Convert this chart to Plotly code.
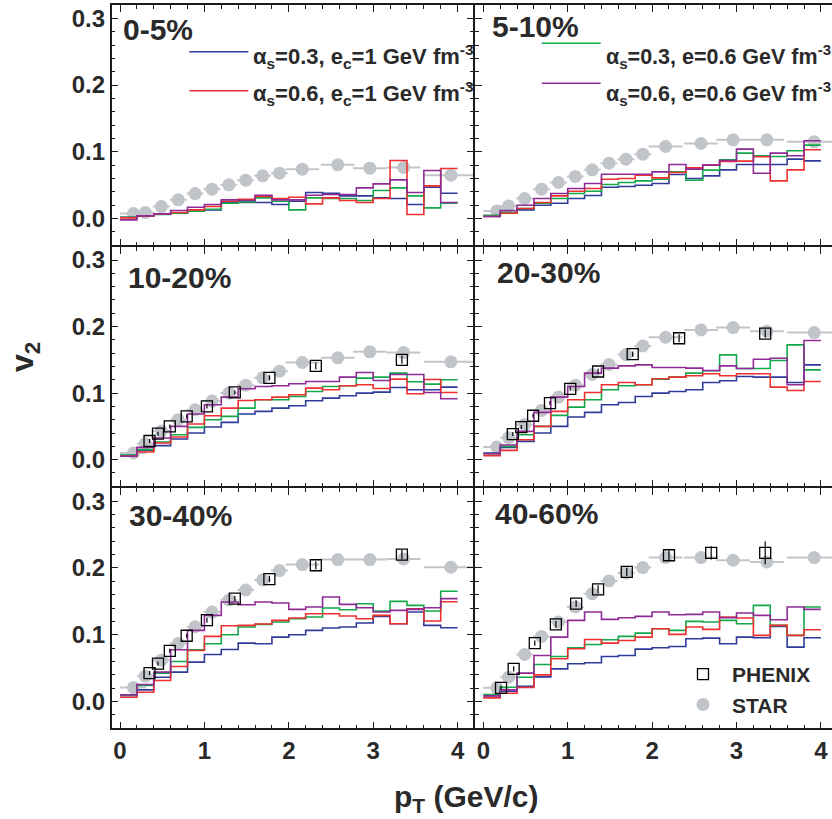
import plotly.graph_objects as go

# ---------------------------------------------------------------------------
# Data: elliptic flow v2 of charged hadrons versus pT in six centrality classes
# Model curves are histograms in 0.2 GeV/c bins from 0 to 4 GeV/c.
# ---------------------------------------------------------------------------
PT_EDGES = [0.0, 0.2, 0.4, 0.6, 0.8, 1.0, 1.2, 1.4, 1.6, 1.8, 2.0,
            2.2, 2.4, 2.6, 2.8, 3.0, 3.2, 3.4, 3.6, 3.8, 4.0]

CENTRALITY = ["0-5%", "5-10%", "10-20%", "20-30%", "30-40%", "40-60%"]

# alpha_s = 0.3, e_c = 1 GeV/fm^3  (blue)
as03_ec1_c0_5 = [0.002, 0.004, 0.007, 0.008, 0.011, 0.013, 0.024, 0.024, 0.024, 0.021,
                 0.026, 0.039, 0.038, 0.034, 0.034, 0.031, 0.030, 0.021, 0.047, 0.038]
as03_ec1_c5_10 = [0.004, 0.009, 0.013, 0.020, 0.023, 0.030, 0.0345, 0.047, 0.048, 0.050,
                  0.0525, 0.066, 0.060, 0.064, 0.073, 0.081, 0.081, 0.081, 0.089, 0.0865]
as03_ec1_c10_20 = [0.006, 0.014, 0.021, 0.031, 0.040, 0.049, 0.056, 0.0685, 0.0725, 0.0775,
                   0.081, 0.0885, 0.0925, 0.096, 0.100, 0.1015, 0.1085, 0.105, 0.105, 0.109]
as03_ec1_c20_30 = [0.010, 0.0185, 0.0275, 0.040, 0.050, 0.064, 0.071, 0.0825, 0.086, 0.095,
                   0.100, 0.1025, 0.105, 0.116, 0.1185, 0.125, 0.124, 0.124, 0.116, 0.1425]
as03_ec1_c30_40 = [0.009, 0.0175, 0.0365, 0.044, 0.059, 0.0705, 0.078, 0.0875, 0.0865, 0.0965,
                   0.100, 0.1065, 0.110, 0.1115, 0.1175, 0.1275, 0.1165, 0.134, 0.114, 0.1105]
as03_ec1_c40_60 = [0.0065, 0.0155, 0.023, 0.037, 0.049, 0.0565, 0.058, 0.0675, 0.069, 0.0785,
                   0.0805, 0.0825, 0.094, 0.095, 0.0865, 0.0965, 0.0955, 0.1125, 0.0815, 0.0955]

# alpha_s = 0.6, e_c = 1 GeV/fm^3  (red)
as06_ec1_c0_5 = [0.001, 0.004, 0.007, 0.009, 0.013, 0.018, 0.026, 0.029, 0.033, 0.030,
                 0.032, 0.022, 0.031, 0.027, 0.024, 0.030, 0.087, 0.006, 0.049, 0.075]
as06_ec1_c5_10 = [0.003, 0.008, 0.015, 0.024, 0.034, 0.041, 0.045, 0.059, 0.060, 0.065,
                  0.061, 0.069, 0.076, 0.080, 0.0855, 0.086, 0.0925, 0.0565, 0.073, 0.103]
as06_ec1_c10_20 = [0.005, 0.0115, 0.025, 0.034, 0.0535, 0.066, 0.0775, 0.089, 0.090, 0.094,
                   0.0975, 0.1075, 0.105, 0.111, 0.1125, 0.107, 0.121, 0.099, 0.1205, 0.101]
as06_ec1_c20_30 = [0.006, 0.014, 0.030, 0.050, 0.0725, 0.090, 0.101, 0.1125, 0.116, 0.1125,
                   0.1215, 0.124, 0.126, 0.129, 0.126, 0.129, 0.129, 0.109, 0.104, 0.1175]
as06_ec1_c30_40 = [0.0065, 0.014, 0.0315, 0.0525, 0.0765, 0.0975, 0.1135, 0.114, 0.116, 0.1215,
                   0.125, 0.1315, 0.1315, 0.128, 0.124, 0.129, 0.1165, 0.139, 0.1205, 0.1495]
as06_ec1_c40_60 = [0.0055, 0.0125, 0.021, 0.040, 0.064, 0.079, 0.093, 0.0875, 0.0915, 0.0965,
                   0.109, 0.1005, 0.1115, 0.108, 0.1265, 0.125, 0.099, 0.114, 0.099, 0.1075]

# alpha_s = 0.3, e = 0.6 GeV/fm^3  (green)
as03_e06_c0_5 = [0.002, 0.004, 0.006, 0.008, 0.011, 0.014, 0.023, 0.025, 0.031, 0.026,
                 0.013, 0.031, 0.030, 0.030, 0.027, 0.042, 0.046, 0.034, 0.016, 0.023]
as03_e06_c5_10 = [0.005, 0.009, 0.015, 0.023, 0.030, 0.0375, 0.041, 0.051, 0.054, 0.0565,
                  0.059, 0.070, 0.0575, 0.0725, 0.088, 0.098, 0.094, 0.093, 0.1015, 0.110]
as03_e06_c10_20 = [0.007, 0.015, 0.0265, 0.0375, 0.0485, 0.060, 0.065, 0.0775, 0.090, 0.090,
                   0.095, 0.1025, 0.110, 0.111, 0.1225, 0.124, 0.130, 0.117, 0.1135, 0.120]
as03_e06_c20_30 = [0.009, 0.020, 0.0375, 0.050, 0.0665, 0.079, 0.090, 0.105, 0.111, 0.1125,
                   0.121, 0.124, 0.130, 0.1335, 0.1575, 0.137, 0.137, 0.149, 0.1725, 0.135]
as03_e06_c30_40 = [0.009, 0.024, 0.0425, 0.060, 0.0775, 0.0865, 0.100, 0.1115, 0.1155, 0.119,
                   0.124, 0.1265, 0.140, 0.1375, 0.1465, 0.1355, 0.150, 0.144, 0.1355, 0.165]
as03_e06_c40_60 = [0.0105, 0.0215, 0.0365, 0.0555, 0.0675, 0.0805, 0.0855, 0.0925, 0.0975, 0.1025,
                   0.109, 0.1065, 0.120, 0.119, 0.1215, 0.1165, 0.144, 0.114, 0.099, 0.1415]

# alpha_s = 0.6, e = 0.6 GeV/fm^3  (purple)
as06_e06_c0_5 = [-0.002, 0.004, 0.007, 0.012, 0.017, 0.021, 0.028, 0.027, 0.035, 0.028,
                 0.028, 0.035, 0.036, 0.036, 0.046, 0.052, 0.058, 0.039, 0.072, 0.024]
as06_e06_c5_10 = [0.003, 0.012, 0.020, 0.030, 0.0375, 0.045, 0.0525, 0.0665, 0.0665, 0.0665,
                  0.070, 0.081, 0.074, 0.080, 0.087, 0.104, 0.068, 0.098, 0.094, 0.1165]
as06_e06_c10_20 = [0.005, 0.0185, 0.0325, 0.050, 0.0685, 0.0825, 0.094, 0.1065, 0.110, 0.111,
                   0.114, 0.1175, 0.1175, 0.124, 0.131, 0.119, 0.128, 0.128, 0.101, 0.0915]
as06_e06_c20_30 = [0.009, 0.022, 0.0425, 0.071, 0.094, 0.110, 0.130, 0.1375, 0.141, 0.1425,
                   0.1385, 0.1385, 0.1375, 0.134, 0.141, 0.137, 0.151, 0.1525, 0.1125, 0.179]
as06_e06_c30_40 = [0.010, 0.0255, 0.044, 0.0775, 0.1065, 0.129, 0.149, 0.145, 0.149, 0.1475,
                   0.138, 0.1415, 0.1565, 0.1455, 0.1405, 0.134, 0.1365, 0.138, 0.1405, 0.154]
as06_e06_c40_60 = [0.0085, 0.0175, 0.0425, 0.069, 0.0965, 0.1215, 0.134, 0.123, 0.1255, 0.1275,
                   0.134, 0.130, 0.1305, 0.134, 0.1255, 0.1325, 0.129, 0.1225, 0.1415, 0.138]

# STAR data (gray circles), horizontal bars show the pT bin
STAR_PT = [0.16, 0.30, 0.49, 0.69, 0.89, 1.09, 1.29, 1.49, 1.69, 1.89, 2.16, 2.58, 2.96, 3.36, 3.92]
STAR_PT_ERR_PLUS = [0.15, 0.1, 0.1, 0.1, 0.1, 0.1, 0.1, 0.1, 0.1, 0.1, 0.2, 0.2, 0.2, 0.2, 0.4]
STAR_PT_ERR_MINUS = [0.16, 0.1, 0.1, 0.1, 0.1, 0.1, 0.1, 0.1, 0.1, 0.1, 0.2, 0.2, 0.2, 0.2, 0.32]
star_c0_5 = [0.0075, 0.009, 0.018, 0.028, 0.0375, 0.044, 0.0505, 0.0575, 0.064, 0.068,
             0.074, 0.0805, 0.0755, 0.0765, 0.065]
star_c5_10 = [0.0115, 0.019, 0.030, 0.044, 0.054, 0.063, 0.073, 0.083, 0.089, 0.0965,
              0.108, 0.1125, 0.118, 0.118, 0.115]
star_c10_20 = [0.010, 0.024, 0.043, 0.060, 0.075, 0.088, 0.100, 0.112, 0.123, 0.133,
               0.146, 0.153, 0.162, 0.161, 0.147]
star_c20_30 = [0.019, 0.033, 0.053, 0.074, 0.094, 0.112, 0.128, 0.143, 0.158, 0.171,
               0.184, 0.195, 0.1985, 0.193, 0.191]
star_c30_40 = [0.021, 0.038, 0.062, 0.087, 0.112, 0.134, 0.152, 0.167, 0.182, 0.196,
               0.205, 0.2125, 0.2125, 0.2135, 0.201]
star_c40_60 = [0.0205, 0.0365, 0.0705, 0.0975, 0.119, 0.1415, 0.1615, 0.1805, 0.1925, 0.2005,
               0.2155, 0.2155, 0.2115, 0.209, 0.2155]

# PHENIX data (open squares)
PHENIX_PT = [0.35, 0.45, 0.59, 0.79, 1.03, 1.36, 1.77, 2.32, 3.34]
phenix_c10_20 = [0.028, 0.039, 0.050, 0.065, 0.080, 0.101, 0.123, 0.141, 0.150]
phenix_c10_20_err = [0.003, 0.003, 0.003, 0.003, 0.003, 0.003, 0.004, 0.005, 0.006]
phenix_c20_30 = [0.0385, 0.049, 0.066, 0.085, 0.1065, 0.1325, 0.1585, 0.1825, 0.1895]
phenix_c20_30_err = [0.003, 0.003, 0.003, 0.003, 0.003, 0.004, 0.004, 0.006, 0.006]
phenix_c30_40 = [0.0427, 0.0568, 0.0759, 0.0985, 0.122, 0.154, 0.1834, 0.204, 0.220]
phenix_c30_40_err = [0.003, 0.003, 0.003, 0.003, 0.004, 0.004, 0.005, 0.006, 0.007]
PHENIX_PT_PERIPH = [0.21, 0.36, 0.61, 0.86, 1.10, 1.36, 1.70, 2.20, 2.70, 3.34]
phenix_c40_60 = [0.0205, 0.049, 0.0875, 0.1155, 0.1465, 0.168, 0.194, 0.219, 0.2225, 0.2225]
phenix_c40_60_err = [0.003, 0.004, 0.004, 0.005, 0.005, 0.006, 0.006, 0.007, 0.010, 0.017]

# ---------------------------------------------------------------------------
W, H = 832, 819
BLUE, RED, GREEN, PURPLE = "#2f3b98", "#ee3030", "#14a84c", "#8f2b94"
GRAY = "#c1c5ca"
INK = "#1c1c1c"
TEXT = "#2a2a2a"
FONT = "Liberation Sans, Arial, sans-serif"
LW = 1.5

models = [
    (BLUE, [as03_ec1_c0_5, as03_ec1_c5_10, as03_ec1_c10_20, as03_ec1_c20_30, as03_ec1_c30_40, as03_ec1_c40_60]),
    (GREEN, [as03_e06_c0_5, as03_e06_c5_10, as03_e06_c10_20, as03_e06_c20_30, as03_e06_c30_40, as03_e06_c40_60]),
    (RED, [as06_ec1_c0_5, as06_ec1_c5_10, as06_ec1_c10_20, as06_ec1_c20_30, as06_ec1_c30_40, as06_ec1_c40_60]),
    (PURPLE, [as06_e06_c0_5, as06_e06_c5_10, as06_e06_c10_20, as06_e06_c20_30, as06_e06_c30_40, as06_e06_c40_60]),
]
star_sets = [star_c0_5, star_c5_10, star_c10_20, star_c20_30, star_c30_40, star_c40_60]
phenix_sets = [None, None,
               (PHENIX_PT, phenix_c10_20, phenix_c10_20_err),
               (PHENIX_PT, phenix_c20_30, phenix_c20_30_err),
               (PHENIX_PT, phenix_c30_40, phenix_c30_40_err),
               (PHENIX_PT_PERIPH, phenix_c40_60, phenix_c40_60_err)]

# panel geometry in pixels; neighbouring panels share one frame line
COL_X = [(111.7, 474.0 - LW / 2), (474.0 + LW / 2, 832.0)]
ROW_Y = [(5.0, 246.0 - LW / 2), (246.0 + LW / 2, 487.0 - LW / 2), (487.0 + LW / 2, 728.3)]
X0_PX = [120.0, 483.3]        # pixel where pT = 0 sits in each column
PX_PER_GEV = 84.4
Y_RANGE = [-0.04, 0.32]


def px(x):
    return x / W


def py(y):
    return 1 - y / H


fig = go.Figure()

for i in range(6):
    k = "" if i == 0 else str(i + 1)
    xa, ya = "x" + k, "y" + k

    # STAR
    fig.add_trace(go.Scatter(
        x=STAR_PT, y=star_sets[i], xaxis=xa, yaxis=ya, mode="markers",
        marker=dict(symbol="circle", size=13, color=GRAY),
        error_x=dict(type="data", array=STAR_PT_ERR_PLUS, arrayminus=STAR_PT_ERR_MINUS,
                     color=GRAY, thickness=2, width=0),
        name="STAR", showlegend=(i == 5), legendrank=2))

    # model histograms
    for color, sets in models:
        vals = sets[i]
        fig.add_trace(go.Scatter(
            x=PT_EDGES, y=vals + [vals[-1]], xaxis=xa, yaxis=ya, mode="lines",
            line=dict(color=color, width=1.6, shape="hv"), showlegend=False))

    # PHENIX
    if phenix_sets[i] is not None:
        ptx, vy, err = phenix_sets[i]
        fig.add_trace(go.Scatter(
            x=ptx, y=vy, xaxis=xa, yaxis=ya, mode="markers",
            marker=dict(symbol="square-open", size=11, color="#000000", line=dict(width=1.3)),
            error_y=dict(type="data", array=err, color="#000000", thickness=1.2, width=0),
            name="PHENIX", showlegend=(i == 5), legendrank=1))

axis_common = dict(linecolor=INK, linewidth=LW,
                   ticks="inside", tickcolor=INK, tickwidth=1.3, ticklen=7,
                   showgrid=False, zeroline=False, fixedrange=True,
                   tickfont=dict(size=24, color=TEXT, family=FONT, weight="bold"))

layout_axes = {}
for i in range(6):
    row, col = divmod(i, 2)
    k = "" if i == 0 else str(i + 1)
    x0, x1 = COL_X[col]
    yt, yb = ROW_Y[row]
    xr = [(x0 - X0_PX[col]) / PX_PER_GEV, (x1 - X0_PX[col]) / PX_PER_GEV]
    layout_axes["xaxis" + k] = dict(
        axis_common, showline=True, mirror="allticks",
        domain=[px(x0), px(x1)], range=xr,
        anchor="y" + k, tick0=0, dtick=1, showticklabels=(row == 2),
        minor=dict(ticks="inside", ticklen=4, tick0=0, dtick=0.2, tickcolor=INK, tickwidth=1.2))
    layout_axes["yaxis" + k] = dict(
        axis_common, showline=True, mirror=("allticks" if col == 0 else False),
        domain=[py(yb), py(yt)], range=Y_RANGE,
        anchor="x" + k, tick0=0, dtick=0.1, tickformat=".1f", showticklabels=(col == 0),
        minor=dict(ticks="inside", ticklen=4, tick0=0, dtick=0.02, tickcolor=INK, tickwidth=1.2))

# centrality labels
label_pos = [(120.5, 30), (490, 26), (126, 277.5), (495, 272.5), (126.5, 515), (493, 513)]
annotations = []
for (lx, ly), text in zip(label_pos, CENTRALITY):
    annotations.append(dict(x=px(lx), y=py(ly), xref="paper", yref="paper", text=text,
                            showarrow=False, xanchor="left", yanchor="middle",
                            font=dict(size=30, color=TEXT, family=FONT, weight="bold")))

# model legend: line keys and labels
legend_entries = [
    (BLUE, 189.3, 248.3, 51.7, 251, 57, 22, "α<sub>s</sub>=0.3, e<sub>c</sub>=1 GeV fm<sup>-3</sup>"),
    (RED, 189.3, 248.3, 90.7, 251, 93, 22, "α<sub>s</sub>=0.6, e<sub>c</sub>=1 GeV fm<sup>-3</sup>"),
    (GREEN, 541.7, 600.7, 43.3, 604, 57, 21.5, "α<sub>s</sub>=0.3, e=0.6 GeV fm<sup>-3</sup>"),
    (PURPLE, 541.7, 600.7, 83.3, 604, 93, 21.5, "α<sub>s</sub>=0.6, e=0.6 GeV fm<sup>-3</sup>"),
]
shapes = []
for color, lx0, lx1, ly, tx, ty, fs, text in legend_entries:
    shapes.append(dict(type="line", xref="paper", yref="paper", x0=px(lx0), x1=px(lx1),
                       y0=py(ly), y1=py(ly), line=dict(color=color, width=1.6)))
    annotations.append(dict(x=px(tx), y=py(ty), xref="paper", yref="paper", text=text,
                            showarrow=False, xanchor="left", yanchor="middle",
                            font=dict(size=fs, color=TEXT, family=FONT, weight="bold")))

# axis titles
annotations.append(dict(x=px(24), y=py(357), xref="paper", yref="paper", text="v<sub>2</sub>",
                        textangle=-90, showarrow=False, xanchor="center", yanchor="middle",
                        font=dict(size=32, color=TEXT, family=FONT, weight="bold")))
annotations.append(dict(x=px(467), y=py(798), xref="paper", yref="paper",
                        text="p<sub>T</sub> (GeV/c)", showarrow=False,
                        xanchor="center", yanchor="middle",
                        font=dict(size=30, color=TEXT, family=FONT, weight="bold")))

fig.update_layout(
    width=W, height=H, margin=dict(l=0, r=0, t=0, b=0),
    paper_bgcolor="white", plot_bgcolor="white",
    font=dict(family=FONT, color=INK, weight="bold"),
    showlegend=True,
    legend=dict(x=px(674), y=py(654), xanchor="left", yanchor="top",
                bgcolor="rgba(0,0,0,0)", itemwidth=48, tracegroupgap=0,
                font=dict(size=21, color=TEXT, family=FONT, weight="bold")),
    annotations=annotations, shapes=shapes,
    **layout_axes)

fig.write_html("out.html")
